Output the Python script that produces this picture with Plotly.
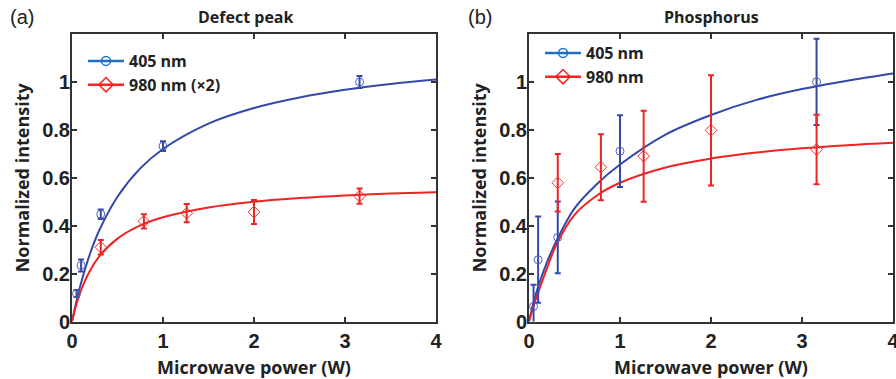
import plotly.graph_objects as go

# ---------------- data ----------------
# Panel (a): Defect peak
a_x405 = [0.05, 0.1, 0.316, 1.0, 3.16]
a_y405 = [0.117, 0.234, 0.448, 0.732, 1.0]
a_e405 = [0.015, 0.025, 0.02, 0.02, 0.025]
a_x980 = [0.316, 0.79, 1.26, 2.0, 3.16]
a_y980 = [0.31, 0.418, 0.452, 0.457, 0.523]
a_e980 = [0.03, 0.03, 0.038, 0.05, 0.032]

fit_x = [0, 0.05, 0.1, 0.2, 0.3, 0.5, 0.75, 1.0, 1.5, 2.0, 2.5, 3.0, 3.5, 4.0]
a_fit405 = [0, 0.087, 0.162, 0.285, 0.381, 0.521, 0.639, 0.720, 0.826, 0.891, 0.935, 0.967, 0.991, 1.010]
a_fit980 = [0, 0.074, 0.131, 0.214, 0.272, 0.346, 0.401, 0.435, 0.476, 0.500, 0.515, 0.526, 0.534, 0.540]

# Panel (b): Phosphorus
b_x405 = [0.05, 0.1, 0.316, 1.0, 3.16]
b_y405 = [0.063, 0.258, 0.351, 0.711, 1.0]
b_e405 = [0.09, 0.18, 0.15, 0.15, 0.18]
b_x980 = [0.316, 0.79, 1.26, 2.0, 3.16]
b_y980 = [0.579, 0.644, 0.69, 0.798, 0.718]
b_e980 = [0.12, 0.138, 0.19, 0.23, 0.145]

b_fit405 = [0, 0.08, 0.145, 0.25, 0.335, 0.472, 0.575, 0.655, 0.78, 0.862, 0.925, 0.97, 1.005, 1.035]
b_fit980 = [0, 0.065, 0.12, 0.225, 0.32, 0.445, 0.527, 0.579, 0.643, 0.680, 0.705, 0.723, 0.736, 0.746]

x_ticks = [0, 1, 2, 3, 4]
x_ticktext = ["0", "1", "2", "3", "4"]
y_ticks = [0, 0.2, 0.4, 0.6, 0.8, 1.0]
y_ticktext = ["0", "0.2", "0.4", "0.6", "0.8", "1"]

titles = ["Defect peak", "Phosphorus"]
panel_labels = ["(a)", "(b)"]
legend_a = ["405 nm", "980 nm (\u00d72)"]
legend_b = ["405 nm", "980 nm"]
x_title = "Microwave power (W)"
y_title = "Normalized intensity"

# ---------------- style ----------------
W, H = 896, 379
BLUE_FIT = "#3448aa"
BLUE_PT = "#4a5fc0"
RED_FIT = "#f02222"
RED_PT = "#f03030"
BLUE_LEG = "#1f6fc8"
RED_LEG = "#ff2020"
AXC = "#333333"
TICKFONT = dict(family="Liberation Sans, Arial", size=20, color="#222", weight=700)
TITLEFONT = dict(family="Open Sans, sans-serif", size=18, color="#222", weight=700)
LEGFONT = dict(family="Open Sans, sans-serif", size=16, color="#222", weight=700)

fig = go.Figure()


def add_panel(xa, ya, fx, f405, f980, x405, y405, e405, x980, y980, e980, leg, legnames):
    fig.add_trace(go.Scatter(x=fx, y=f405, mode="lines", line=dict(color=BLUE_FIT, width=2, shape="spline"),
                             showlegend=False, xaxis=xa, yaxis=ya, hoverinfo="skip"))
    fig.add_trace(go.Scatter(x=fx, y=f980, mode="lines", line=dict(color=RED_FIT, width=2, shape="spline"),
                             showlegend=False, xaxis=xa, yaxis=ya, hoverinfo="skip"))
    fig.add_trace(go.Scatter(x=x405, y=y405, mode="markers",
                             marker=dict(symbol="circle-open", size=8, color=BLUE_PT, line=dict(width=1)),
                             error_y=dict(type="data", array=e405, color=BLUE_FIT, thickness=2, width=3),
                             showlegend=False, xaxis=xa, yaxis=ya))
    fig.add_trace(go.Scatter(x=x980, y=y980, mode="markers",
                             marker=dict(symbol="diamond-open", size=9, color=RED_PT, line=dict(width=1)),
                             error_y=dict(type="data", array=e980, color=RED_FIT, thickness=2, width=3),
                             showlegend=False, xaxis=xa, yaxis=ya))
    fig.add_trace(go.Scatter(x=[None], y=[None], mode="lines+markers", name=legnames[0],
                             line=dict(color=BLUE_LEG, width=2.5),
                             marker=dict(symbol="circle-open", size=9, color=BLUE_LEG, line=dict(width=1.5)),
                             legend=leg, xaxis=xa, yaxis=ya))
    fig.add_trace(go.Scatter(x=[None], y=[None], mode="lines+markers", name=legnames[1],
                             line=dict(color=RED_LEG, width=2.5),
                             marker=dict(symbol="diamond-open", size=11, color=RED_LEG, line=dict(width=1.5)),
                             legend=leg, xaxis=xa, yaxis=ya))


add_panel("x", "y", fit_x, a_fit405, a_fit980, a_x405, a_y405, a_e405, a_x980, a_y980, a_e980, "legend", legend_a)
add_panel("x2", "y2", fit_x, b_fit405, b_fit980, b_x405, b_y405, b_e405, b_x980, b_y980, b_e980, "legend2", legend_b)

ydom = [1 - 321.5 / H, 1 - 34 / H]
common_ax = dict(showline=True, linecolor=AXC, linewidth=2, mirror="ticks", ticks="inside",
                 ticklen=5, tickwidth=2, tickcolor=AXC, showgrid=False, zeroline=False,
                 tickfont=TICKFONT, fixedrange=True, automargin=False, ticklabeloverflow="allow")

fig.update_layout(
    width=W, height=H,
    margin=dict(l=0, r=0, t=0, b=0),
    paper_bgcolor="white", plot_bgcolor="white",
    xaxis=dict(domain=[72 / W, 436 / W], range=[0, 4], tickvals=x_ticks, ticktext=x_ticktext,
               anchor="y", ticklabelstandoff=0,
               title=dict(text=x_title, font=TITLEFONT, standoff=12), **common_ax),
    yaxis=dict(domain=ydom, range=[0, 1.2], tickvals=y_ticks, ticktext=y_ticktext, anchor="x",
               ticklabelstandoff=-4,
               title=dict(text=y_title, font=TITLEFONT, standoff=8), **common_ax),
    xaxis2=dict(domain=[529 / W, 893 / W], range=[0, 4], tickvals=x_ticks, ticktext=x_ticktext,
                anchor="y2", ticklabelstandoff=0,
                title=dict(text=x_title, font=TITLEFONT, standoff=12), **common_ax),
    yaxis2=dict(domain=ydom, range=[0, 1.2], tickvals=y_ticks, ticktext=y_ticktext, anchor="x2",
                ticklabelstandoff=-4,
                title=dict(text=y_title, font=TITLEFONT, standoff=8), **common_ax),
    legend=dict(x=83 / W, y=1 - 44 / H, xanchor="left", yanchor="top", bgcolor="rgba(0,0,0,0)",
                font=LEGFONT, tracegroupgap=0, itemwidth=36),
    legend2=dict(x=540 / W, y=1 - 36 / H, xanchor="left", yanchor="top", bgcolor="rgba(0,0,0,0)",
                 font=LEGFONT, tracegroupgap=0, itemwidth=36),
    showlegend=True,
)

annots = [
    dict(text=titles[0], x=246 / W, y=1 - 17 / H),
    dict(text=titles[1], x=711 / W, y=1 - 17 / H),
]
for a in annots:
    fig.add_annotation(xref="paper", yref="paper", xanchor="center", yanchor="middle", showarrow=False,
                       font=dict(family="Open Sans, sans-serif", size=16, color="#222", weight=700), **a)
for lbl, xp in zip(panel_labels, [22 / W, 480 / W]):
    fig.add_annotation(xref="paper", yref="paper", x=xp, y=1 - 17 / H, xanchor="center", yanchor="middle",
                       showarrow=False, text=lbl,
                       font=dict(family="Liberation Sans, Arial", size=20, color="#222"))

fig.write_html("out.html", config={"displayModeBar": False},
               post_script="document.body.style.margin='0';document.body.style.overflow='hidden';")
